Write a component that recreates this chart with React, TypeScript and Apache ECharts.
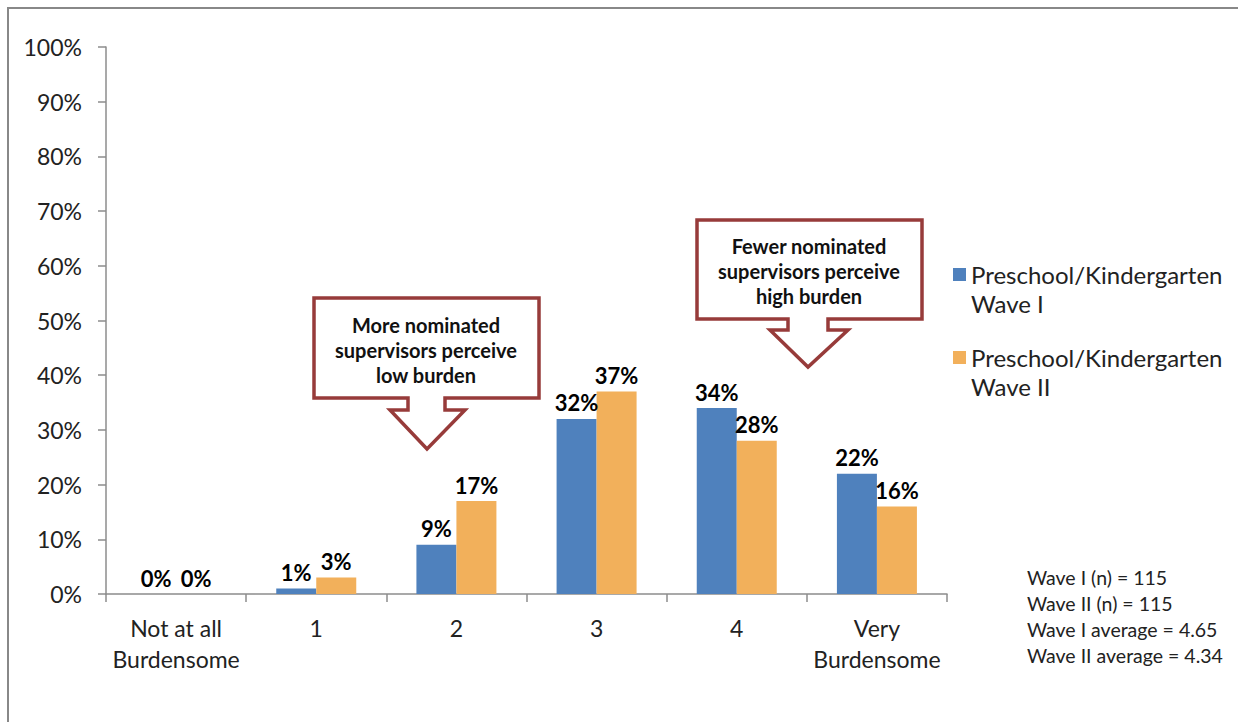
import React, { useEffect, useRef } from "react";
import * as echarts from "echarts";

const categories = ["Not at all\nBurdensome", "1", "2", "3", "4", "Very\nBurdensome"];
const waveI = [0, 1, 9, 32, 34, 22];
const waveII = [0, 3, 17, 37, 28, 16];
const seriesNames = ["Preschool/Kindergarten\nWave I", "Preschool/Kindergarten\nWave II"];
const yTicks = [0, 10, 20, 30, 40, 50, 60, 70, 80, 90, 100];
const notes = ["Wave I (n) = 115", "Wave II (n) = 115", "Wave I average = 4.65", "Wave II average = 4.34"];
const callout1 = "More nominated\nsupervisors perceive\nlow burden";
const callout2 = "Fewer nominated\nsupervisors perceive\nhigh burden";

const FONT = "Lato, 'Open Sans', sans-serif";
const RED = "#973b3a";

function calloutPoints(x: number, y: number, w: number, h: number, sl: number, sr: number, hl: number, hr: number, stemBottom: number, tipX: number, tipY: number) {
  return [
    [x, y], [x + w, y], [x + w, y + h], [sr, y + h], [sr, stemBottom], [hr, stemBottom],
    [tipX, tipY], [hl, stemBottom], [sl, stemBottom], [sl, y + h], [x, y + h],
  ];
}

export default function App() {
  const ref = useRef<HTMLDivElement>(null);
  useEffect(() => {
    if (!ref.current) return;
    const chart = echarts.init(ref.current, null, { renderer: "svg" });
    const labelStyle = {
      show: true,
      position: "top" as const,
      formatter: (p: any) => `${p.value}%`,
      fontFamily: FONT,
      fontWeight: "bold" as const,
      fontSize: 22,
      color: "#000",
      distance: 5,
    };
    chart.setOption({
      animation: false,
      textStyle: { fontFamily: FONT },
      grid: { left: 106, right: 291, top: 47, bottom: 128, containLabel: false },
      legend: {
        orient: "vertical",
        left: 948,
        top: 226,
        itemWidth: 13,
        itemHeight: 13,
        itemGap: -4,
        icon: "rect",
        formatter: (name: string) => "\n" + name,
        textStyle: { fontFamily: FONT, fontSize: 24, color: "#222", lineHeight: 29 },
        data: seriesNames,
      },
      xAxis: {
        type: "category",
        data: categories,
        axisLine: { lineStyle: { color: "#8c8c8c", width: 1.5 } },
        axisTick: { show: true, length: 8, lineStyle: { color: "#8c8c8c", width: 1.5 } },
        axisLabel: { fontFamily: FONT, fontSize: 23, color: "#222", lineHeight: 31, margin: 18, interval: 0 },
      },
      yAxis: {
        type: "value",
        min: 0,
        max: 100,
        interval: 10,
        axisLine: { show: true, lineStyle: { color: "#8c8c8c", width: 1.5 } },
        axisTick: { show: true, length: 8, lineStyle: { color: "#8c8c8c", width: 1.5 } },
        splitLine: { show: false },
        axisLabel: {
          fontFamily: FONT,
          fontSize: 23,
          color: "#222",
          margin: 24,
          formatter: (v: number) => (yTicks.includes(v) ? `${v}%` : ""),
        },
      },
      series: [
        {
          name: seriesNames[0],
          type: "bar",
          data: waveI,
          barWidth: 40,
          barGap: "0%",
          itemStyle: { color: "#4f81bd" },
          label: labelStyle,
        },
        {
          name: seriesNames[1],
          type: "bar",
          data: waveII,
          barWidth: 40,
          barGap: "0%",
          itemStyle: { color: "#f2b05b" },
          label: labelStyle,
        },
      ],
      graphic: [
        { type: "line", shape: { x1: 8, y1: 7, x2: 8, y2: 722 }, style: { stroke: "#888", lineWidth: 2 } },
        { type: "line", shape: { x1: 8, y1: 8, x2: 1238, y2: 8 }, style: { stroke: "#888", lineWidth: 2 } },
        {
          type: "polygon",
          shape: { points: calloutPoints(314, 298, 225, 100, 408, 445, 390, 465, 410, 427, 449) },
          style: { fill: "#fff", stroke: RED, lineWidth: 3.5, lineJoin: "miter" },
        },
        {
          type: "text",
          x: 426,
          y: 350,
          style: {
            text: callout1,
            fontFamily: FONT,
            fontWeight: "bold",
            fontSize: 20,
            lineHeight: 25,
            fill: "#111",
            align: "center",
            verticalAlign: "middle",
          },
        },
        {
          type: "polygon",
          shape: { points: calloutPoints(697, 220, 225, 99, 788, 828, 770, 848, 330, 808, 367) },
          style: { fill: "#fff", stroke: RED, lineWidth: 3.5, lineJoin: "miter" },
        },
        {
          type: "text",
          x: 809,
          y: 271,
          style: {
            text: callout2,
            fontFamily: FONT,
            fontWeight: "bold",
            fontSize: 20,
            lineHeight: 25,
            fill: "#111",
            align: "center",
            verticalAlign: "middle",
          },
        },
        {
          type: "text",
          left: 1027,
          top: 564,
          style: {
            text: notes.join("\n"),
            fontFamily: FONT,
            fontSize: 19.5,
            lineHeight: 26,
            fill: "#222",
          },
        },
      ],
    });
    return () => chart.dispose();
  }, []);
  return <div ref={ref} style={{ position: "fixed", left: 0, top: 0, width: 1238, height: 722, background: "#fff" }} />;
}
